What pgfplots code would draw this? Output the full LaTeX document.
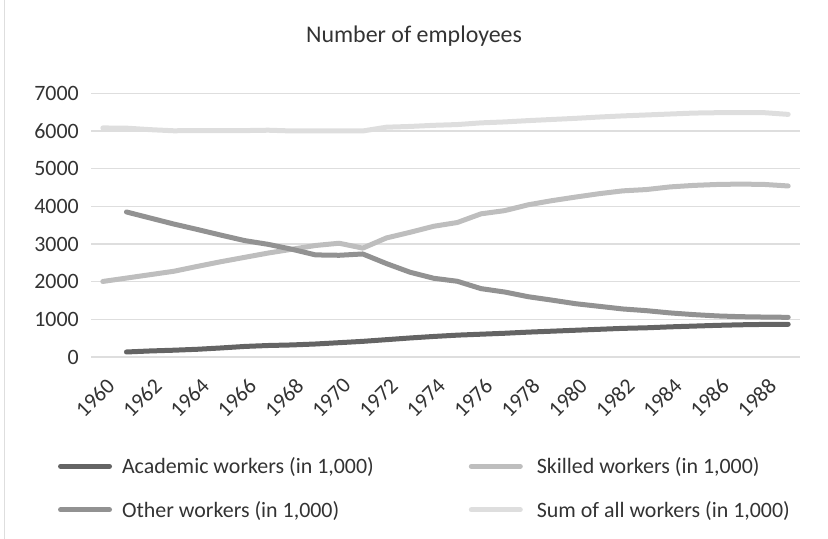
\documentclass[border=0pt]{standalone}
\usepackage{pgfplots}
\pgfplotsset{compat=1.18}
\usepackage{fontspec}
\setmainfont{Carlito}
\definecolor{txt}{HTML}{333333}
\definecolor{gridc}{HTML}{DEDEDE}
\definecolor{acad}{HTML}{646464}
\definecolor{other}{HTML}{929292}
\definecolor{skill}{HTML}{BEBEBE}
\definecolor{sumc}{HTML}{DEDEDE}
\begin{document}
\begin{tikzpicture}[x=1bp,y=1bp]
\useasboundingbox (0,0) rectangle (828,539);
\draw[gridc, line width=1bp] (4,0) -- (4,539);
\begin{axis}[
  at={(91bp,182bp)}, anchor=south west,
  width=709bp, height=263.7bp, scale only axis,
  xmin=1959.5, xmax=1989.5,
  ymin=0, ymax=7000,
  xtick={1960,1962,...,1988},
  ytick={0,1000,...,7000},
  xmajorgrids=false, ymajorgrids=true,
  major grid style={draw=gridc, line width=1.3bp},
  axis line style={draw=none},
  major tick length=0pt,
  tick style={draw=none},
  /pgf/number format/1000 sep={},
  /pgf/number format/assume math mode=true,
  tick label style={font=\fontsize{22}{24}\selectfont, text=txt},
  yticklabel style={inner sep=0pt, xshift=-12bp},
  xticklabel style={inner sep=0pt, xshift=8bp, yshift=-25bp, rotate=45, anchor=east},
  title={Number of employees},
  title style={font=\fontsize{24}{26}\selectfont, text=txt, at={(0.4556,1.1945)}, anchor=center},
  legend columns=2,
  legend cell align=left,
  legend style={at={(-0.0465,-0.497)}, anchor=west, draw=none, fill=none,
    inner sep=0pt, outer sep=0pt, font=\fontsize{22}{24}\selectfont, text=txt,
    nodes={inner sep=0pt},
    row sep=26bp,
    /tikz/column 1/.style={column sep=10bp},
    /tikz/column 2/.style={column sep=95bp},
    /tikz/column 3/.style={column sep=14bp}},
  legend image code/.code={\draw[#1] (2.5bp,0bp) -- (51.5bp,0bp);},
  every axis plot/.append style={line width=5bp, line cap=round, line join=round, mark=none},
]
\addplot[acad] coordinates {
(1961,133)(1962,160)(1963,180)(1964,205)(1965,240)(1966,280)(1967,305)(1968,320)
(1969,345)(1970,380)(1971,415)(1972,460)(1973,505)(1974,545)(1975,580)(1976,605)
(1977,630)(1978,660)(1979,685)(1980,710)(1981,735)(1982,760)(1983,775)(1984,800)
(1985,820)(1986,840)(1987,855)(1988,865)(1989,868)};
\addlegendentry{Academic workers (in 1,000)}
\addplot[skill] coordinates {
(1960,2005)(1961,2095)(1962,2185)(1963,2275)(1964,2405)(1965,2530)(1966,2645)(1967,2760)
(1968,2860)(1969,2960)(1970,3020)(1971,2890)(1972,3160)(1973,3310)(1974,3470)(1975,3570)
(1976,3800)(1977,3885)(1978,4040)(1979,4150)(1980,4245)(1981,4335)(1982,4410)(1983,4445)
(1984,4515)(1985,4555)(1986,4580)(1987,4590)(1988,4580)(1989,4540)};
\addlegendentry{Skilled workers (in 1,000)}
\addplot[other] coordinates {
(1961,3850)(1962,3690)(1963,3530)(1964,3385)(1965,3235)(1966,3090)(1967,2990)(1968,2860)
(1969,2710)(1970,2700)(1971,2735)(1972,2480)(1973,2250)(1974,2090)(1975,2010)(1976,1815)
(1977,1725)(1978,1600)(1979,1510)(1980,1415)(1981,1345)(1982,1275)(1983,1230)(1984,1170)
(1985,1125)(1986,1090)(1987,1070)(1988,1060)(1989,1053)};
\addlegendentry{Other workers (in 1,000)}
\addplot[sumc] coordinates {
(1960,6080)(1961,6075)(1962,6035)(1963,6005)(1964,6010)(1965,6010)(1966,6010)(1967,6020)
(1968,6000)(1969,6000)(1970,6000)(1971,6000)(1972,6100)(1973,6120)(1974,6150)(1975,6170)
(1976,6215)(1977,6240)(1978,6275)(1979,6305)(1980,6335)(1981,6370)(1982,6400)(1983,6425)
(1984,6450)(1985,6475)(1986,6485)(1987,6485)(1988,6485)(1989,6440)};
\addlegendentry{Sum of all workers (in 1,000)}
\end{axis}
\end{tikzpicture}
\end{document}
